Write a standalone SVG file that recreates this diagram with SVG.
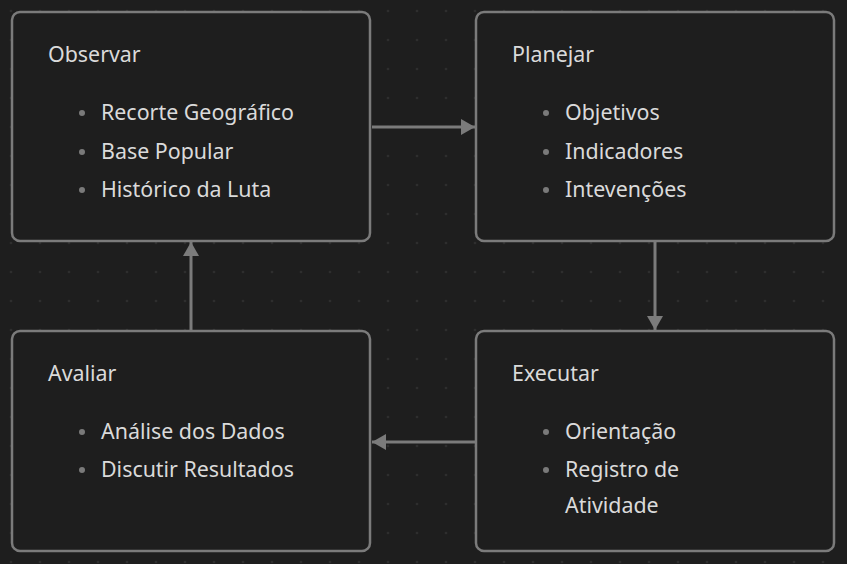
<svg xmlns="http://www.w3.org/2000/svg" width="847" height="564" viewBox="0 0 847 564">
  <defs>
    <pattern id="dots" x="0" y="0" width="29" height="29" patternUnits="userSpaceOnUse">
      <circle cx="11" cy="11" r="1.3" fill="#2e2e2e"/>
    </pattern>
    <marker id="arrow" viewBox="0 0 14 16" refX="14" refY="8" markerWidth="14" markerHeight="16" markerUnits="userSpaceOnUse" orient="auto">
      <path d="M0,0 L14,8 L0,16 Z" fill="#7b7b7b"/>
    </marker>
  </defs>
  <style>
    .box { fill: #1e1e1e; stroke: #7b7b7b; stroke-width: 2.5; }
    .title { font-family: "Noto Sans", "Open Sans", sans-serif; font-size: 21.4px; fill: #dadada; }
    .item { font-family: "Noto Sans", "Open Sans", sans-serif; font-size: 21.4px; fill: #dadada; }
    .bullet { fill: #7a7a7a; }
    .edge { stroke: #7b7b7b; stroke-width: 3; fill: none; marker-end: url(#arrow); }
  </style>
  <rect width="847" height="564" fill="#1e1e1e"/>
  <rect width="847" height="564" fill="url(#dots)"/>

  <g id="connectors">
    <line class="edge" x1="372" y1="127" x2="475" y2="127"/>
    <line class="edge" x1="655" y1="242" x2="655" y2="330"/>
    <line class="edge" x1="475" y1="442" x2="372" y2="442"/>
    <line class="edge" x1="191" y1="330" x2="191" y2="242"/>
  </g>

  <g id="observar">
    <rect class="box" x="12" y="12" width="358" height="229" rx="8"/>
    <text class="title" x="48" y="62">Observar</text>
    <circle class="bullet" cx="82" cy="113" r="3"/>
    <text class="item" x="101" y="120">Recorte Geográfico</text>
    <circle class="bullet" cx="82" cy="152" r="3"/>
    <text class="item" x="101" y="159">Base Popular</text>
    <circle class="bullet" cx="82" cy="190" r="3"/>
    <text class="item" x="101" y="197">Histórico da Luta</text>
  </g>

  <g id="planejar">
    <rect class="box" x="476" y="12" width="358" height="229" rx="8"/>
    <text class="title" x="512" y="62">Planejar</text>
    <circle class="bullet" cx="546" cy="113" r="3"/>
    <text class="item" x="565" y="120">Objetivos</text>
    <circle class="bullet" cx="546" cy="152" r="3"/>
    <text class="item" x="565" y="159">Indicadores</text>
    <circle class="bullet" cx="546" cy="190" r="3"/>
    <text class="item" x="565" y="197">Intevenções</text>
  </g>

  <g id="avaliar">
    <rect class="box" x="12" y="331" width="358" height="220" rx="8"/>
    <text class="title" x="48" y="381">Avaliar</text>
    <circle class="bullet" cx="82" cy="432" r="3"/>
    <text class="item" x="101" y="439">Análise dos Dados</text>
    <circle class="bullet" cx="82" cy="470" r="3"/>
    <text class="item" x="101" y="477">Discutir Resultados</text>
  </g>

  <g id="executar">
    <rect class="box" x="476" y="331" width="358" height="220" rx="8"/>
    <text class="title" x="512" y="381">Executar</text>
    <circle class="bullet" cx="546" cy="432" r="3"/>
    <text class="item" x="565" y="439">Orientação</text>
    <circle class="bullet" cx="546" cy="470" r="3"/>
    <text class="item" x="565" y="477">Registro de</text>
    <text class="item" x="565" y="513">Atividade</text>
  </g>
</svg>
